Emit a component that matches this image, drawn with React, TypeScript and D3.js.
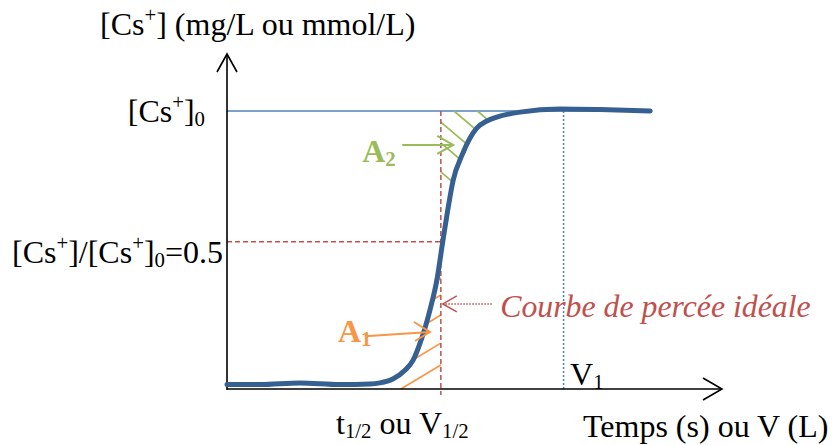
// @ts-nocheck
import { useRef, useEffect } from "react";
import * as d3 from "d3";

// breakthrough curve : time (arbitrary units 0..100) and C/C0
const curveT = [0, 6.7, 14.7, 22.8, 28.9, 30.9, 33.5, 36, 37.6, 39, 41, 42.4, 43.6, 44.6, 45.7, 47.5, 49.1, 50.5, 52.5, 54.5, 59.2, 67.3, 75.4, 85.5];
const curveC = [0.016, 0.016, 0.022, 0.016, 0.018, 0.022, 0.036, 0.068, 0.104, 0.165, 0.284, 0.392, 0.532, 0.644, 0.752, 0.842, 0.903, 0.939, 0.964, 0.978, 0.996, 1.007, 1.005, 1.0];

const tHalf = 43.2;
const cHalf = 0.53;
const tV1 = 68;
const tEnd = 85.5;

// hatch lines, level where they leave the t1/2 line
const hatchA2 = [1.112, 1.04, 0.96, 0.885, 0.781];
const hatchA1 = [0.399, 0.338, 0.266, 0.165, 0.086];

const FONT = "'Liberation Serif', 'Times New Roman', serif";
const BLUE = "#376092";
const LBLUE = "#4f81bd";
const RED = "#c0504d";
const GREEN = "#9bbb59";
const ORANGE = "#f79646";
const FS = 32;

// parts: [text, "n" | "sup" | "sub"]
function richText(g, x, y, parts, size, attrs = {}) {
  const t = g.append("text").attr("x", x).attr("y", y).attr("font-size", size).attr("font-family", FONT);
  Object.entries(attrs).forEach(([k, v]) => t.attr(k, v));
  let off = 0;
  parts.forEach(([s, kind]) => {
    const target = kind === "sup" ? -0.4 * size : kind === "sub" ? 0.12 * size : 0;
    t.append("tspan")
      .attr("dy", target - off)
      .attr("font-size", kind === "n" ? size : size * 0.65)
      .text(s);
    off = target;
  });
  return t;
}

export default function App() {
  const ref = useRef(null);

  useEffect(() => {
    const svg = d3.select(ref.current);
    svg.selectAll("*").remove();

    const x = d3.scaleLinear().domain([0, 100]).range([227, 722]);
    const y = d3.scaleLinear().domain([0, 1]).range([389, 111]);
    const g = svg.append("g");

    // curve y (pixels) as function of x (pixels)
    const curveAt = d3.scaleLinear().domain(curveT.map(x)).range(curveC.map(y)).clamp(true);

    // top level [Cs+]0
    g.append("line")
      .attr("x1", x(0)).attr("x2", x(tEnd)).attr("y1", y(1)).attr("y2", y(1))
      .attr("stroke", LBLUE).attr("stroke-width", 1.5);

    // hatches A2 (green) : from t1/2 line going down-right to the curve
    const kG = 0.85;
    hatchA2.forEach((c) => {
      let x0 = x(tHalf), y0 = y(c);
      if (y0 < y(1)) { x0 = x0 + (y(1) - y0) / kG; y0 = y(1); }
      let x1 = x0, y1 = y0;
      while (y1 < curveAt(x1) && x1 < x(tEnd)) { x1 += 0.25; y1 = y0 + (x1 - x0) * kG; }
      g.append("line").attr("x1", x0).attr("y1", y0).attr("x2", x1).attr("y2", y1)
        .attr("stroke", GREEN).attr("stroke-width", 1.7);
    });

    // hatches A1 (orange) : from t1/2 line going down-left to the curve or the axis
    const kO = 0.6;
    hatchA1.forEach((c) => {
      const x0 = x(tHalf), y0 = y(c);
      let x1 = x0, y1 = y0;
      while (y1 > curveAt(x1) - 2 && y1 < y(0)) { x1 -= 0.25; y1 = y0 + (x0 - x1) * kO; }
      g.append("line").attr("x1", x0).attr("y1", y0).attr("x2", x1).attr("y2", Math.min(y1, y(0)))
        .attr("stroke", ORANGE).attr("stroke-width", 1.7);
    });

    // half level dashed lines
    g.append("line")
      .attr("x1", x(0)).attr("x2", x(tHalf)).attr("y1", y(cHalf)).attr("y2", y(cHalf))
      .attr("stroke", RED).attr("stroke-width", 1.5).attr("stroke-dasharray", "5,3");
    g.append("line")
      .attr("x1", x(tHalf)).attr("x2", x(tHalf)).attr("y1", y(1)).attr("y2", y(-0.022))
      .attr("stroke", RED).attr("stroke-width", 1.5).attr("stroke-dasharray", "5,3");

    // V1 dotted line
    g.append("line")
      .attr("x1", x(tV1)).attr("x2", x(tV1)).attr("y1", y(1)).attr("y2", y(0))
      .attr("stroke", LBLUE).attr("stroke-width", 1.5).attr("stroke-dasharray", "2,2");

    // axes with open arrow heads
    const ax = g.append("g").attr("stroke", "#000").attr("stroke-width", 1.6).attr("fill", "none");
    ax.append("line").attr("x1", x(0)).attr("x2", x(0)).attr("y1", y(0) + 1).attr("y2", y(1.205));
    ax.append("path").attr("d", `M${x(0) - 10},${y(1.205) + 18}L${x(0)},${y(1.205)}L${x(0) + 10},${y(1.205) + 18}`);
    ax.append("line").attr("x1", x(0)).attr("x2", x(100)).attr("y1", y(0)).attr("y2", y(0));
    ax.append("path").attr("d", `M${x(100) - 19},${y(0) - 11}L${x(100)},${y(0)}L${x(100) - 19},${y(0) + 11}`);

    // breakthrough curve
    const line = d3.line()
      .x((d) => x(d[0]))
      .y((d) => y(d[1]))
      .curve(d3.curveMonotoneX);
    g.append("path")
      .datum(curveT.map((t, i) => [t, curveC[i]]))
      .attr("fill", "none")
      .attr("stroke", BLUE)
      .attr("stroke-width", 5)
      .attr("stroke-linecap", "round")
      .attr("d", line);

    // A2 arrow
    const a2y = y(0.878);
    g.append("line").attr("x1", x(35.4)).attr("x2", x(45.7)).attr("y1", a2y).attr("y2", a2y)
      .attr("stroke", GREEN).attr("stroke-width", 2);
    g.append("path").attr("d", `M${x(45.7) - 16},${a2y - 9}L${x(45.7)},${a2y}L${x(45.7) - 16},${a2y + 9}`)
      .attr("stroke", GREEN).attr("stroke-width", 2).attr("fill", "none");

    // A1 arrow
    const a1x0 = x(27.9), a1y0 = y(0.19), a1x1 = x(41.0), a1y1 = y(0.205);
    g.append("line").attr("x1", a1x0).attr("x2", a1x1).attr("y1", a1y0).attr("y2", a1y1)
      .attr("stroke", ORANGE).attr("stroke-width", 2);
    g.append("path").attr("d", `M${a1x1 - 16},${a1y1 - 10}L${a1x1},${a1y1}L${a1x1 - 15},${a1y1 + 9}`)
      .attr("stroke", ORANGE).attr("stroke-width", 2).attr("fill", "none");

    // ideal curve arrow (dotted)
    const cy = y(0.306), cx1 = x(43.6), cx0 = x(53.5);
    g.append("line").attr("x1", cx0).attr("x2", cx1 + 2).attr("y1", cy).attr("y2", cy)
      .attr("stroke", RED).attr("stroke-width", 1.5).attr("stroke-dasharray", "1.5,1.5");
    g.append("path").attr("d", `M${cx1 + 14},${cy - 8}L${cx1},${cy}L${cx1 + 14},${cy + 8}`)
      .attr("stroke", RED).attr("stroke-width", 1.5).attr("fill", "none");

    // texts
    richText(g, 100, 35, [["[Cs", "n"], ["+", "sup"], ["] (mg/L ou mmol/L)", "n"]], FS);
    richText(g, x(0) - 22, y(1) + 11, [["[Cs", "n"], ["+", "sup"], ["]", "n"], ["0", "sub"]], FS, { "text-anchor": "end" });
    richText(g, x(0) - 4, y(cHalf) + 21,
      [["[Cs", "n"], ["+", "sup"], ["]/[Cs", "n"], ["+", "sup"], ["]", "n"], ["0", "sub"], ["=0.5", "n"]], FS, { "text-anchor": "end" });
    richText(g, x(27.3), y(0.817), [["A", "n"], ["2", "sub"]], FS, { "font-weight": "bold", fill: GREEN });
    richText(g, x(22.4), y(0.169), [["A", "n"], ["1", "sub"]], FS, { "font-weight": "bold", fill: ORANGE });
    g.append("text").attr("x", x(55.2)).attr("y", y(0.259))
      .attr("font-family", FONT).attr("font-size", 31.8).attr("font-style", "italic").attr("fill", RED)
      .text("Courbe de percée idéale");
    richText(g, x(69.3), y(0.014), [["V", "n"], ["1", "sub"]], FS);
    richText(g, 336, 434, [["t", "n"], ["1/2", "sub"], [" ou V", "n"], ["1/2", "sub"]], FS);
    richText(g, 583, 437, [["Temps (s) ou V (L)", "n"]], FS);
  }, []);

  return (
    <svg
      ref={ref}
      width={836}
      height={445}
      style={{ position: "absolute", left: 0, top: 0, background: "#fff" }}
    ></svg>
  );
}
